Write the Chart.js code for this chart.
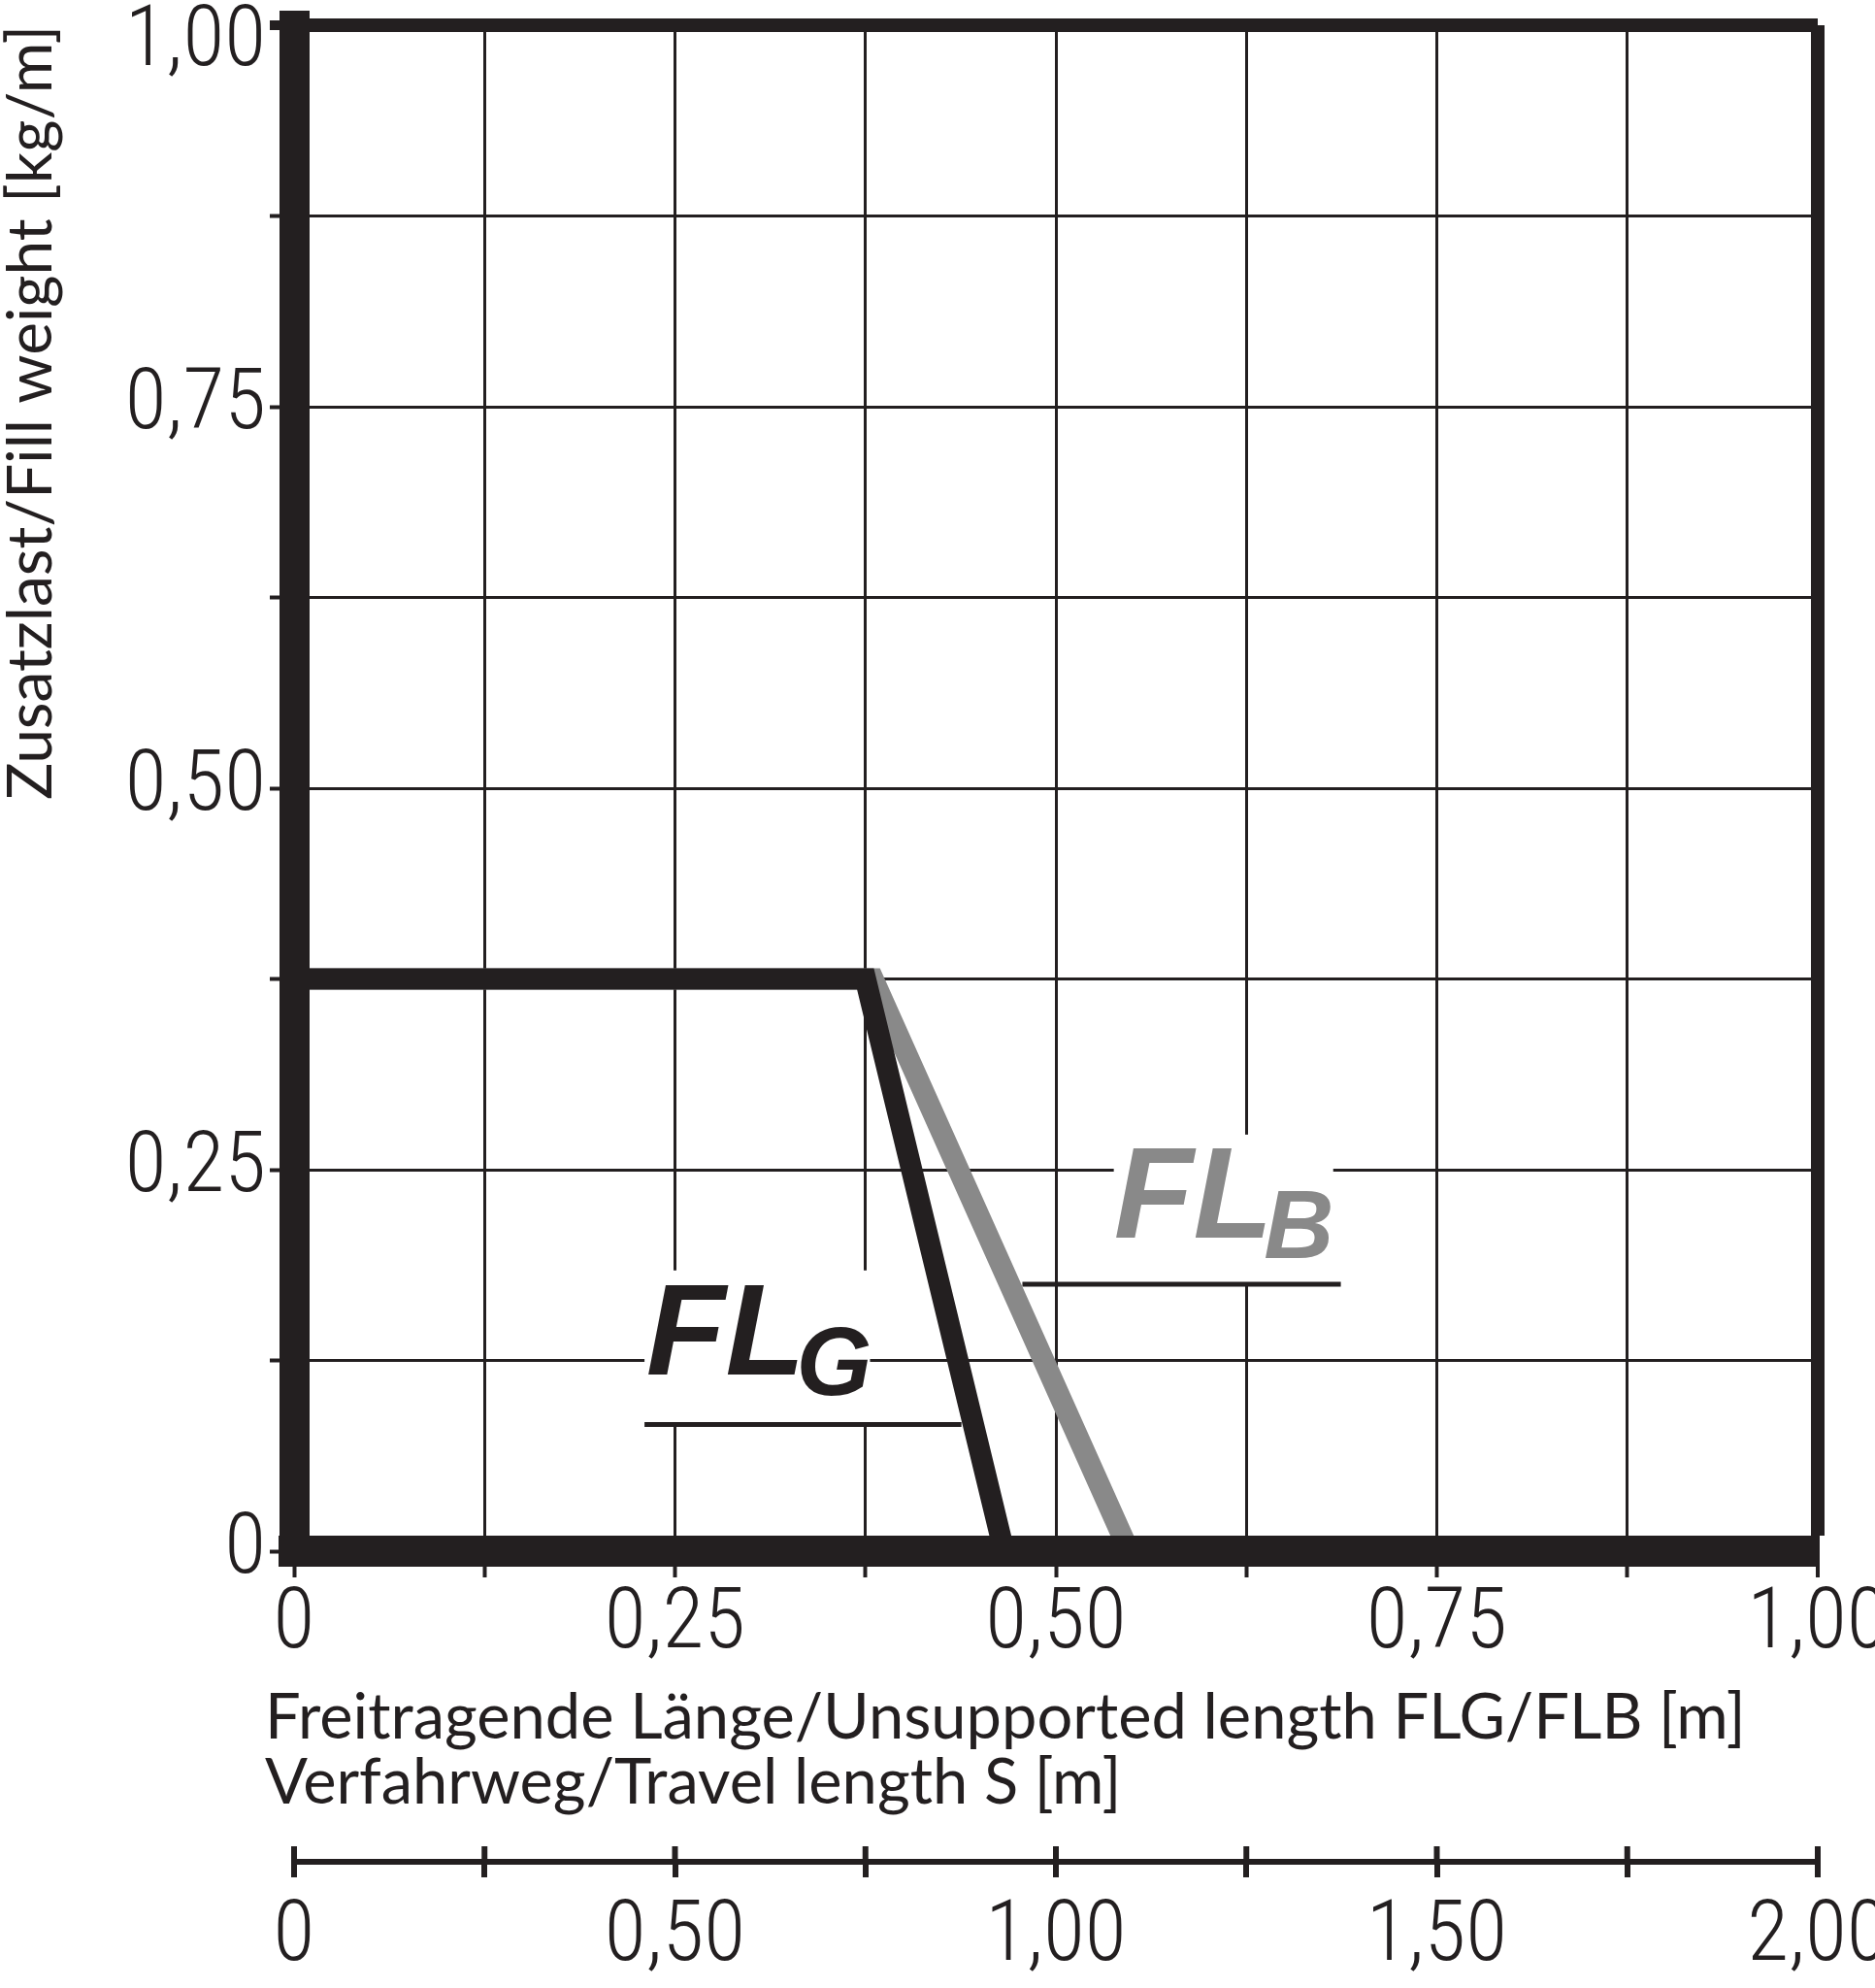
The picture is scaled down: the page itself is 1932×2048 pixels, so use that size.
<!DOCTYPE html>
<html>
<head>
<meta charset="utf-8">
<script src="https://cdn.jsdelivr.net/npm/chart.js@4.4.1/dist/chart.umd.min.js"></script>
<style>
  html, body { margin: 0; padding: 0; background: #fff; overflow: hidden; }
  #wrap { position: absolute; left: 0; top: -24px; width: 1993px; height: 2072px; }
</style>
</head>
<body>
<div id="wrap"><canvas id="chart"></canvas></div>
<script>
// unsupported length [m] -> fill weight [kg/m]
var flgLength = [0, 0.375, 0.466];
var flgWeight = [0.375, 0.375, 0];
var flbLength = [0, 0.38, 0.548];
var flbWeight = [0.375, 0.375, 0];

// labelled tick values and their texts
var lengthTicks = [0, 0.25, 0.5, 0.75, 1];
var lengthLabels = ['0', '0,25', '0,50', '0,75', '1,00'];
var weightTicks = [0, 0.25, 0.5, 0.75, 1];
var weightLabels = ['0', '0,25', '0,50', '0,75', '1,00'];
var travelTicks = [0, 0.5, 1, 1.5, 2];
var travelLabels = ['0', '0,50', '1,00', '1,50', '2,00'];

var xTitle = ['Freitragende Länge/Unsupported length FLG/FLB [m]', 'Verfahrweg/Travel length S [m]'];
var yTitle = 'Zusatzlast/Fill weight [kg/m]';

var ink = '#231f20';
var grey = '#898989';
var numFont = "Roboto, 'Open Sans', sans-serif";
var numWeight = '300 condensed';
var textFont = "Lato, 'Open Sans', sans-serif";
var tagFont = "'Liberation Sans', Arial, sans-serif";

// curve names drawn in the plot, placed in data units
var tags = [
  { main: 'FL', sub: 'G', color: ink, at: [0.231, 0.116], box: [0.230, 0.083, 0.378, 0.184], rule: [0.230, 0.438, 0.083] },
  { main: 'FL', sub: 'B', color: grey, at: [0.538, 0.2055], box: [0.538, 0.175, 0.682, 0.273], rule: [0.478, 0.687, 0.175] }
];

function pick(values, labels) {
  return function (v) {
    var i = values.indexOf(v);
    return i < 0 ? '' : labels[i];
  };
}
function points(xs, ys) {
  return xs.map(function (x, i) { return { x: x, y: ys[i] }; });
}
function isEdge(c) {
  return c.tick && c.tick.value === 1;
}

var weightLabel = pick(weightTicks, weightLabels);

var extras = {
  id: 'extras',
  beforeDatasetsDraw: function (chart) {
    var ctx = chart.ctx, xs = chart.scales.x, ys = chart.scales.y;
    ctx.save();
    tags.forEach(function (t) {
      var bx0 = xs.getPixelForValue(t.box[0]), bx1 = xs.getPixelForValue(t.box[2]);
      var by0 = ys.getPixelForValue(t.box[3]), by1 = ys.getPixelForValue(t.box[1]);
      ctx.fillStyle = '#fff';
      ctx.fillRect(bx0, by0, bx1 - bx0, by1 - by0);

      var ry = ys.getPixelForValue(t.rule[2]);
      ctx.strokeStyle = ink;
      ctx.lineWidth = 5;
      ctx.beginPath();
      ctx.moveTo(xs.getPixelForValue(t.rule[0]), ry);
      ctx.lineTo(xs.getPixelForValue(t.rule[1]), ry);
      ctx.stroke();

      var px = xs.getPixelForValue(t.at[0]), py = ys.getPixelForValue(t.at[1]);
      ctx.fillStyle = t.color;
      ctx.textAlign = 'left';
      ctx.textBaseline = 'alphabetic';
      ctx.font = 'italic bold 134px ' + tagFont;
      ctx.fillText(t.main, px, py);
      var w = ctx.measureText(t.main).width;
      ctx.font = 'italic bold 100px ' + tagFont;
      ctx.fillText(t.sub, px + w - 9, py + 21);
    });
    ctx.restore();
  },
  afterDraw: function (chart) {
    var ctx = chart.ctx, xs = chart.scales.x, s2 = chart.scales.x2;
    ctx.save();
    // axis title under the length scale
    ctx.fillStyle = ink;
    ctx.font = '65px ' + textFont;
    ctx.textAlign = 'left';
    ctx.textBaseline = 'alphabetic';
    ctx.fillText(xTitle[0], xs.left - 30, xs.top + 193);
    ctx.fillText(xTitle[1], xs.left - 30, xs.top + 260);
    // travel scale ticks cross the line
    ctx.strokeStyle = ink;
    ctx.lineWidth = 6;
    s2.ticks.forEach(function (t, i) {
      var p = s2.getPixelForTick(i);
      ctx.beginPath();
      ctx.moveTo(p, s2.top - 16);
      ctx.lineTo(p, s2.top);
      ctx.stroke();
    });
    ctx.restore();
  }
};

var config = {
  type: 'scatter',
  data: {
    datasets: [
      {
        label: 'FLG',
        data: points(flgLength, flgWeight),
        showLine: true,
        borderColor: ink,
        borderWidth: 22,
        pointRadius: 0,
        tension: 0,
        xAxisID: 'x',
        yAxisID: 'y'
      },
      {
        label: 'FLB',
        data: points(flbLength, flbWeight),
        showLine: true,
        borderColor: grey,
        borderWidth: 22,
        pointRadius: 0,
        tension: 0,
        xAxisID: 'x',
        yAxisID: 'y'
      }
    ]
  },
  options: {
    responsive: true,
    maintainAspectRatio: false,
    animation: false,
    layout: { padding: { top: 50, right: 120, bottom: 0, left: 0 } },
    plugins: {
      legend: { display: false },
      tooltip: { enabled: false }
    },
    scales: {
      x: {
        type: 'linear',
        position: 'bottom',
        min: 0,
        max: 1,
        afterFit: function (s) { s.height = 320; },
        ticks: {
          stepSize: 0.125,
          autoSkip: false,
          maxRotation: 0,
          padding: 6,
          color: ink,
          font: { family: numFont, weight: numWeight, size: 88, lineHeight: 1 },
          callback: pick(lengthTicks, lengthLabels)
        },
        grid: {
          color: ink,
          tickColor: ink,
          lineWidth: function (c) { return isEdge(c) ? 14 : 3; },
          tickLength: 27,
          tickWidth: 4
        },
        border: { color: ink, width: 32, z: 1 }
      },
      x2: {
        type: 'linear',
        position: 'bottom',
        weight: 1,
        min: 0,
        max: 2,
        afterFit: function (s) { s.height = 130; },
        ticks: {
          stepSize: 0.25,
          autoSkip: false,
          maxRotation: 0,
          padding: 19,
          color: ink,
          font: { family: numFont, weight: numWeight, size: 88, lineHeight: 1 },
          callback: pick(travelTicks, travelLabels)
        },
        grid: {
          drawOnChartArea: false,
          color: ink,
          tickColor: ink,
          lineWidth: 6,
          tickLength: 16,
          tickWidth: 6
        },
        border: { color: ink, width: 6 }
      },
      y: {
        type: 'linear',
        position: 'left',
        min: 0,
        max: 1,
        afterFit: function (s) { s.width = 303; },
        ticks: {
          stepSize: 0.125,
          autoSkip: false,
          padding: 4,
          color: ink,
          font: { family: numFont, weight: numWeight, size: 88, lineHeight: 0.44 },
          callback: function (v) {
            var l = weightLabel(v);
            return v === 1 ? ['', l] : l;
          }
        },
        grid: {
          color: ink,
          tickColor: ink,
          lineWidth: function (c) { return isEdge(c) ? 14 : 3; },
          tickLength: 25,
          tickWidth: function (c) { return isEdge(c) ? 10 : 4; }
        },
        border: { color: ink, width: 31, z: 1 },
        title: {
          display: true,
          text: yTitle,
          align: 'end',
          color: ink,
          font: { family: textFont, size: 64, lineHeight: 1 },
          padding: { top: 0, bottom: 0 }
        }
      }
    }
  },
  plugins: [extras]
};

var ctx = document.getElementById('chart').getContext('2d');
window.fillChart = new Chart(ctx, config);
</script>
</body>
</html>
